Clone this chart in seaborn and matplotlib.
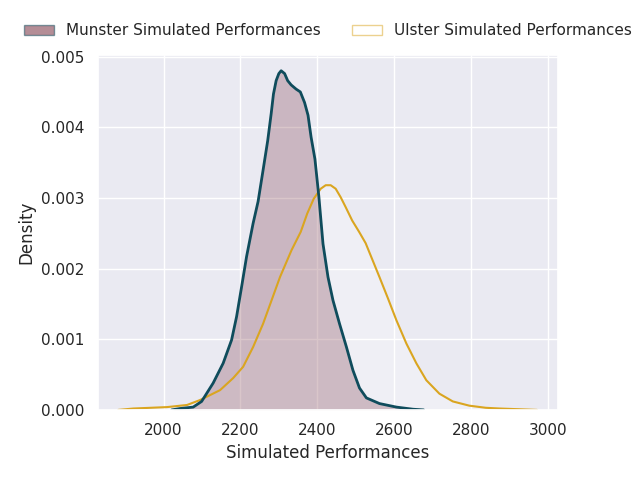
import numpy as np
import matplotlib
matplotlib.use('Agg')
import matplotlib.pyplot as plt
import matplotlib.patches as mpatches
import seaborn as sns

# density curves (x = performance, y = density)
munster_x = [2021, 2043, 2077, 2099, 2129, 2155, 2177, 2190, 2203, 2216, 2233, 2246,
             2258, 2271, 2280, 2286, 2293, 2300, 2306, 2315, 2323, 2332, 2345, 2356,
             2367, 2376, 2384, 2394, 2404, 2415, 2428, 2441, 2458, 2476, 2493, 2510,
             2528, 2562, 2606, 2649, 2677]
munster_y = [0.0, 0.00002, 0.00004, 0.00012, 0.00038, 0.00066, 0.00099, 0.00132, 0.00174,
             0.00217, 0.00264, 0.00295, 0.00336, 0.00381, 0.00419, 0.00447, 0.00466,
             0.00476, 0.00480, 0.00476, 0.00466, 0.00460, 0.00454, 0.00450, 0.00435,
             0.00417, 0.00386, 0.00355, 0.00303, 0.00235, 0.00188, 0.00155, 0.00122,
             0.00089, 0.00056, 0.00031, 0.00017, 0.00009, 0.00004, 0.00001, 0.0]

ulster_x = [1882, 1922, 2009, 2061, 2095, 2147, 2181, 2207, 2233, 2259, 2281, 2303, 2333,
            2357, 2374, 2391, 2409, 2422, 2435, 2448, 2461, 2474, 2491, 2509, 2526, 2541,
            2562, 2584, 2606, 2632, 2658, 2684, 2718, 2753, 2796, 2839, 2874, 2972]
ulster_y = [0.0, 0.00002, 0.00004, 0.00007, 0.00014, 0.00028, 0.00045, 0.00061, 0.00089,
            0.00122, 0.00155, 0.00188, 0.00226, 0.00252, 0.00278, 0.00299, 0.00313,
            0.00318, 0.00318, 0.00313, 0.00301, 0.00287, 0.00268, 0.00252, 0.00236,
            0.00216, 0.00188, 0.00158, 0.00127, 0.00094, 0.00066, 0.00042, 0.00023,
            0.00012, 0.00006, 0.00003, 0.00002, 0.0]

labels = ['Munster Simulated Performances', 'Ulster Simulated Performances']

munster_fill = '#6b1d2f'
munster_line = '#0f4c5c'
ulster_fill = 'white'
ulster_line = '#daa520'

sns.set_theme(style='darkgrid')
fig, ax = plt.subplots(figsize=(6.4, 4.8), dpi=100)

# ulster
ax.fill_between(ulster_x, ulster_y, color=ulster_fill, alpha=0.25, linewidth=0)
sns.lineplot(x=ulster_x, y=ulster_y, ax=ax, color=ulster_line, linewidth=1.5)

# munster
ax.fill_between(munster_x, munster_y, color=munster_fill, alpha=0.25, linewidth=0)
sns.lineplot(x=munster_x, y=munster_y, ax=ax, color=munster_line, linewidth=2)

ax.set_xlim(1829, 3027)
ax.set_ylim(0, 0.00502)
ax.set_xlabel('Simulated Performances')
ax.set_ylabel('Density')

handles = [
    mpatches.Patch(facecolor=munster_fill, edgecolor=munster_line, alpha=0.5, label=labels[0]),
    mpatches.Patch(facecolor=ulster_fill, edgecolor=ulster_line, alpha=0.5, label=labels[1]),
]
ax.legend(handles=handles, loc='lower center', bbox_to_anchor=(0.5, 1.009),
          ncol=2, frameon=False)

plt.subplots_adjust(left=0.153, right=0.872, bottom=0.146, top=0.885)
plt.savefig('out.png', dpi=100)
